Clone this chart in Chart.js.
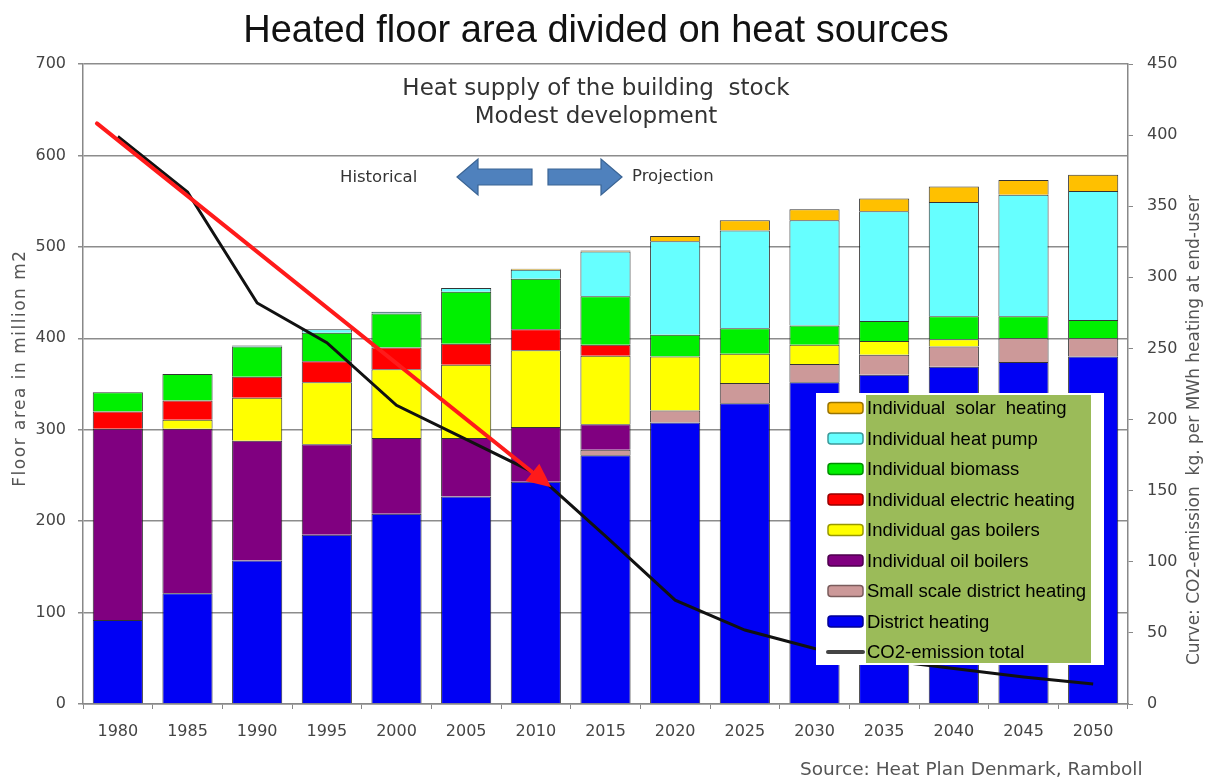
<!DOCTYPE html>
<html>
<head>
<meta charset="utf-8">
<script src="https://cdn.jsdelivr.net/npm/chart.js@4.4.0/dist/chart.umd.min.js"></script>
<style>
  html, body { margin: 0; padding: 0; background: #fff; }
  #wrap { width: 1205px; height: 779px; }
</style>
</head>
<body>
<div id="wrap"><canvas id="chart" width="1205" height="779"></canvas></div>
<script>
// Heated floor area divided on heat sources (million m2), CO2 curve on right axis

var years = ['1980', '1985', '1990', '1995', '2000', '2005', '2010', '2015', '2020', '2025', '2030', '2035', '2040', '2045', '2050'];

var districtHeating  = [92, 121, 157, 185, 208, 227, 243, 272, 308, 329, 352, 360, 369, 374, 380];
var smallScaleDH     = [0, 0, 0, 0, 0, 0, 0, 6, 13, 22, 20, 22, 22, 26, 20];
var oilBoilers       = [209, 180, 131, 99, 83, 64, 60, 28, 0, 0, 0, 0, 0, 0, 0];
var gasBoilers       = [0, 10, 47, 68, 75, 80, 84, 75, 59, 32, 21, 15, 8, 0, 0];
var electricHeating  = [19, 21, 23, 23, 24, 23, 23, 12, 0, 0, 0, 0, 0, 0, 0];
var biomass          = [21, 29, 33, 31, 37, 57, 55, 53, 24, 28, 21, 22, 25, 24, 20];
var heatPump         = [0, 0, 1, 4, 2, 4, 10, 49, 102, 107, 115, 120, 125, 133, 141];
var solarHeating     = [0, 0, 0, 0, 0, 0, 1, 1, 6, 11, 12, 14, 17, 16, 18];

var co2Emission      = [399, 360, 282, 254, 210, 186, 162, 118, 73, 52, 39, 31, 25, 19, 14];

var leftMax = 700, leftStep = 100;
var rightMax = 450, rightStep = 50;

// annotation arrow in data units: [category index, floor area]
var trendFrom = [-0.3, 635];
var trendTo = [6.22, 237];

var FONT_V = '"DejaVu Sans", Verdana, sans-serif';
var FONT_A = '"Liberation Sans", Arial, sans-serif';

function barSet(label, data, color) {
  return {
    type: 'bar', label: label, data: data, yAxisID: 'y', order: 1,
    backgroundColor: color, borderColor: 'rgba(30,30,30,0.9)', borderWidth: 1,
    barPercentage: 0.72, categoryPercentage: 1.0
  };
}

var datasets = [
  barSet('District heating', districtHeating, '#0000f4'),
  barSet('Small scale district heating', smallScaleDH, '#cc9999'),
  barSet('Individual oil boilers', oilBoilers, '#800080'),
  barSet('Individual gas boilers', gasBoilers, '#ffff00'),
  barSet('Individual electric heating', electricHeating, '#ff0000'),
  barSet('Individual biomass', biomass, '#00f000'),
  barSet('Individual heat pump', heatPump, '#66ffff'),
  barSet('Individual  solar  heating', solarHeating, '#ffc000'),
  {
    type: 'line', label: 'CO2-emission total', data: co2Emission, yAxisID: 'y2', order: 0,
    borderColor: '#111', borderWidth: 3, pointRadius: 0, tension: 0, fill: false
  }
];

function darker(hex) {
  var n = parseInt(hex.slice(1), 16);
  var r = Math.round(((n >> 16) & 255) * 0.6), g = Math.round(((n >> 8) & 255) * 0.6), b = Math.round((n & 255) * 0.6);
  return 'rgb(' + r + ',' + g + ',' + b + ')';
}

function roundRect(ctx, x, y, w, h, r) {
  ctx.beginPath();
  ctx.moveTo(x + r, y);
  ctx.lineTo(x + w - r, y);
  ctx.quadraticCurveTo(x + w, y, x + w, y + r);
  ctx.lineTo(x + w, y + h - r);
  ctx.quadraticCurveTo(x + w, y + h, x + w - r, y + h);
  ctx.lineTo(x + r, y + h);
  ctx.quadraticCurveTo(x, y + h, x, y + h - r);
  ctx.lineTo(x, y + r);
  ctx.quadraticCurveTo(x, y, x + r, y);
  ctx.closePath();
}

function blockArrow(ctx, x1, x2, cy, bodyH, headH, headL) {
  // x1 = tip, x2 = tail
  var dir = x2 > x1 ? 1 : -1;
  var hx = x1 + dir * headL;
  ctx.beginPath();
  ctx.moveTo(x1, cy);
  ctx.lineTo(hx, cy - headH / 2);
  ctx.lineTo(hx, cy - bodyH / 2);
  ctx.lineTo(x2, cy - bodyH / 2);
  ctx.lineTo(x2, cy + bodyH / 2);
  ctx.lineTo(hx, cy + bodyH / 2);
  ctx.lineTo(hx, cy + headH / 2);
  ctx.closePath();
  ctx.fillStyle = '#4f81bd';
  ctx.fill();
  ctx.strokeStyle = '#3a6494';
  ctx.lineWidth = 1.2;
  ctx.stroke();
}

var decor = {
  id: 'decor',
  beforeDraw: function (chart) {
    var ctx = chart.ctx;
    ctx.save();
    ctx.fillStyle = '#fff';
    ctx.fillRect(0, 0, chart.width, chart.height);
    ctx.restore();
  },
  afterDatasetsDraw: function (chart) {
    var ctx = chart.ctx;
    var xs = chart.scales.x, ys = chart.scales.y;
    ctx.save();

    // red trend arrow
    var ax1 = xs.getPixelForValue(trendFrom[0]), ay1 = ys.getPixelForValue(trendFrom[1]);
    var ax2 = xs.getPixelForValue(trendTo[0]), ay2 = ys.getPixelForValue(trendTo[1]);
    var ang = Math.atan2(ay2 - ay1, ax2 - ax1);
    var headL = 24, headW = 11;
    var bx = ax2 - headL * Math.cos(ang), by = ay2 - headL * Math.sin(ang);
    ctx.strokeStyle = '#ff1a1a';
    ctx.lineWidth = 4;
    ctx.lineCap = 'round';
    ctx.beginPath();
    ctx.moveTo(ax1, ay1);
    ctx.lineTo(bx, by);
    ctx.stroke();
    ctx.fillStyle = '#ff1a1a';
    ctx.beginPath();
    ctx.moveTo(ax2, ay2);
    ctx.lineTo(bx + headW * Math.sin(ang), by - headW * Math.cos(ang));
    ctx.lineTo(bx - headW * Math.sin(ang), by + headW * Math.cos(ang));
    ctx.closePath();
    ctx.fill();

    // historical / projection arrows
    blockArrow(ctx, 457, 532, 177, 16, 36, 21);
    blockArrow(ctx, 622, 548, 177, 16, 36, 21);

    ctx.fillStyle = '#333';
    ctx.font = '16.5px ' + FONT_V;
    ctx.textBaseline = 'middle';
    ctx.textAlign = 'left';
    ctx.fillText('Historical', 340, 178);
    ctx.fillText('Projection', 632, 177);

    ctx.font = '23px ' + FONT_V;
    ctx.textAlign = 'center';
    ctx.fillText('Heat supply of the building  stock', 596, 89);
    ctx.fillText('Modest development', 596, 117);

    // legend
    var items = datasets.slice(0, 8).reverse().concat([datasets[8]]);
    ctx.fillStyle = '#fff';
    ctx.fillRect(816, 393, 288, 272);
    ctx.fillStyle = '#9bbb59';
    ctx.fillRect(866, 395, 225, 268);
    ctx.font = '18.5px ' + FONT_A;
    ctx.textAlign = 'left';
    items.forEach(function (ds, i) {
      var cy = 408 + i * 30.5;
      if (ds.type === 'line') {
        ctx.strokeStyle = '#444';
        ctx.lineWidth = 4;
        ctx.beginPath();
        ctx.moveTo(828, cy);
        ctx.lineTo(863, cy);
        ctx.stroke();
      } else {
        roundRect(ctx, 828, cy - 5.5, 35, 11, 3);
        ctx.fillStyle = ds.backgroundColor;
        ctx.fill();
        ctx.strokeStyle = darker(ds.backgroundColor);
        ctx.lineWidth = 1.5;
        ctx.stroke();
      }
      ctx.fillStyle = '#000';
      ctx.fillText(ds.label, 867, cy + 1);
    });
    ctx.restore();
  },
  afterDraw: function (chart) {
    var ctx = chart.ctx;
    ctx.save();
    ctx.fillStyle = '#111';
    ctx.font = '38px ' + FONT_A;
    ctx.textAlign = 'center';
    ctx.textBaseline = 'middle';
    ctx.fillText('Heated floor area divided on heat sources', 596, 32);

    ctx.fillStyle = '#555';
    ctx.font = '18.5px ' + FONT_V;
    ctx.textAlign = 'left';
    ctx.fillText('Source: Heat Plan Denmark, Ramboll', 800, 770);

    ctx.font = '17px ' + FONT_V;
    ctx.letterSpacing = '1.5px';
    ctx.textAlign = 'center';
    ctx.translate(21, 368);
    ctx.rotate(-Math.PI / 2);
    ctx.fillText('Floor area in million m2', 0, 0);
    ctx.restore();

    ctx.save();
    ctx.fillStyle = '#555';
    ctx.font = '17px ' + FONT_V;
    ctx.textAlign = 'center';
    ctx.textBaseline = 'middle';
    ctx.translate(1195, 430);
    ctx.rotate(-Math.PI / 2);
    ctx.fillText('Curve: CO2-emission  kg. per MWh heating at end-user', 0, 0);
    ctx.restore();
  }
};

var tickFont = { family: FONT_V, size: 16 };

new Chart(document.getElementById('chart').getContext('2d'), {
  type: 'bar',
  data: { labels: years, datasets: datasets },
  options: {
    responsive: false,
    animation: false,
    devicePixelRatio: 1,
    layout: { padding: { top: 64, left: 0, right: 0, bottom: 0 } },
    plugins: { legend: { display: false }, title: { display: false }, tooltip: { enabled: false } },
    scales: {
      x: {
        stacked: true,
        afterFit: function (s) { s.height = 75; },
        grid: { drawOnChartArea: false, tickLength: 5, color: '#888' },
        border: { color: '#888', width: 1.5 },
        ticks: { color: '#444', font: tickFont, padding: 13, maxRotation: 0 }
      },
      y: {
        stacked: true, min: 0, max: leftMax,
        afterFit: function (s) { s.width = 83; },
        grid: { color: '#8c8c8c', lineWidth: 1.5, tickLength: 5 },
        border: { color: '#888', width: 1.5 },
        ticks: { stepSize: leftStep, color: '#444', font: tickFont, padding: 12 }
      },
      y2: {
        position: 'right', min: 0, max: rightMax,
        afterFit: function (s) { s.width = 77; },
        grid: { drawOnChartArea: false, tickLength: 5, color: '#888' },
        border: { color: '#888', width: 1.5 },
        ticks: { stepSize: rightStep, color: '#444', font: tickFont, padding: 14 }
      }
    }
  },
  plugins: [decor]
});
</script>
</body>
</html>
